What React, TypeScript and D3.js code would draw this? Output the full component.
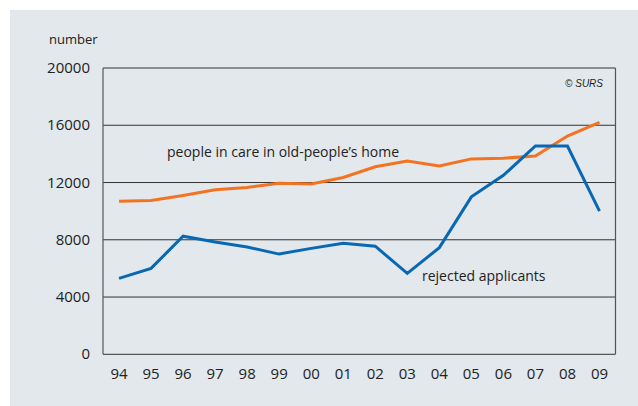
import React, { useEffect, useRef } from 'react';
import * as d3 from 'd3';

const years = ['94', '95', '96', '97', '98', '99', '00', '01', '02', '03', '04', '05', '06', '07', '08', '09'];
const careHome = [10700, 10750, 11100, 11500, 11650, 11950, 11900, 12350, 13100, 13500, 13150, 13650, 13700, 13850, 15250, 16200];
const rejected = [5300, 6000, 8250, 7850, 7500, 7000, 7400, 7750, 7550, 5650, 7450, 11000, 12500, 14550, 14550, 10000];
const yTicks = [0, 4000, 8000, 12000, 16000, 20000];

const W = 638;
const H = 406;
const font = '"Open Sans", "Noto Sans", sans-serif';

export default function App() {
  const ref = useRef<SVGSVGElement>(null);

  useEffect(() => {
    const svg = d3.select(ref.current);
    svg.selectAll('*').remove();

    const left = 103, right = 615.5, top = 68, bottom = 354.3;

    svg.append('rect')
      .attr('x', 10).attr('y', 10)
      .attr('width', W - 10).attr('height', H - 10)
      .attr('fill', '#e3e8ec');

    const x = d3.scalePoint<string>().domain(years).range([left, right]).padding(0.5);
    const y = d3.scaleLinear().domain([0, 20000]).range([bottom, top]);

    // gridlines
    svg.append('g')
      .selectAll('line')
      .data(yTicks)
      .enter().append('line')
      .attr('x1', left).attr('x2', right)
      .attr('y1', d => y(d)).attr('y2', d => y(d))
      .attr('stroke', '#333')
      .attr('stroke-width', 1);

    // frame sides
    svg.append('line').attr('x1', left).attr('x2', left).attr('y1', top).attr('y2', bottom)
      .attr('stroke', '#555').attr('stroke-width', 1.2);
    svg.append('line').attr('x1', right).attr('x2', right).attr('y1', top).attr('y2', bottom)
      .attr('stroke', '#555').attr('stroke-width', 1.2);

    // y labels
    svg.append('g')
      .selectAll('text')
      .data(yTicks)
      .enter().append('text')
      .attr('x', 90)
      .attr('y', d => y(d) + 5)
      .attr('text-anchor', 'end')
      .attr('font-family', font)
      .attr('font-size', 15)
      .attr('fill', '#222')
      .text(d => String(d));

    // x labels
    svg.append('g')
      .selectAll('text')
      .data(years)
      .enter().append('text')
      .attr('x', d => x(d)!)
      .attr('y', 379)
      .attr('text-anchor', 'middle')
      .attr('font-family', font)
      .attr('font-size', 15)
      .attr('fill', '#222')
      .text(d => d);

    svg.append('text')
      .attr('x', 49).attr('y', 44)
      .attr('font-family', font).attr('font-size', 13).attr('fill', '#222')
      .text('number');

    svg.append('text')
      .attr('x', 603).attr('y', 87)
      .attr('text-anchor', 'end')
      .attr('font-family', '"Liberation Sans", Arial, sans-serif')
      .attr('font-size', 10).attr('font-style', 'italic').attr('fill', '#222')
      .text('© SURS');

    const line = d3.line<number>()
      .x((_, i) => x(years[i])!)
      .y(d => y(d));

    svg.append('path')
      .datum(careHome)
      .attr('d', line)
      .attr('fill', 'none')
      .attr('stroke', '#f47321')
      .attr('stroke-width', 3);

    svg.append('path')
      .datum(rejected)
      .attr('d', line)
      .attr('fill', 'none')
      .attr('stroke', '#0868b4')
      .attr('stroke-width', 3);

    svg.append('text')
      .attr('x', 167).attr('y', 157)
      .attr('font-family', font).attr('font-size', 14).attr('fill', '#222')
      .text('people in care in old-people’s home');

    svg.append('text')
      .attr('x', 422).attr('y', 281)
      .attr('font-family', font).attr('font-size', 14).attr('fill', '#222')
      .text('rejected applicants');
  }, []);

  return (
    <svg ref={ref} width={W} height={H}
      style={{ position: 'absolute', left: 0, top: 0, display: 'block' }} />
  );
}
